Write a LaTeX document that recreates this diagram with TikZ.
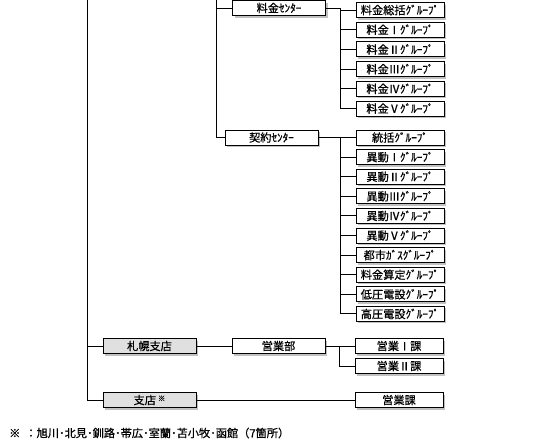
\documentclass[tikz,border=0pt]{standalone}
\usepackage{fontspec}
\newfontfamily\jpfont[FakeBold=0.7]{Noto Sans CJK JP}
\usetikzlibrary{shadows}
\tikzset{
  unitbox/.style={draw, fill=white, line width=1pt, minimum width=93pt, minimum height=15pt, inner sep=0pt,
    font=\jpfont\fontsize{11.2}{13}\selectfont,
    drop shadow={shadow xshift=2pt, shadow yshift=-2pt, fill=black!30, opacity=0.8}},
  branchbox/.style={unitbox, fill=black!12},
  groupbox/.style={unitbox, minimum width=88pt},
  tree/.style={line width=1pt}
}
\begin{document}
\begin{tikzpicture}[x=1pt, y=-1pt]
      \useasboundingbox (0,0) rectangle (550,445);
      \coordinate (top1) at (87, 0);
      \coordinate (top2) at (216, 0);
      \coordinate (busA) at (340, 0);
      \coordinate (busB) at (339, 0);
      \node[unitbox] (ryo) at (279, 8) {料金ｾﾝﾀｰ};
      \node[unitbox] (kei) at (271.5, 137.5) {契約ｾﾝﾀｰ};
      \node[groupbox] (R1) at (400, 10) {料金総括ｸﾞﾙｰﾌﾟ};
      \node[groupbox] (R2) at (400, 29.7) {料金Ⅰｸﾞﾙｰﾌﾟ};
      \node[groupbox] (R3) at (400, 49.4) {料金Ⅱｸﾞﾙｰﾌﾟ};
      \node[groupbox] (R4) at (400, 69.1) {料金Ⅲｸﾞﾙｰﾌﾟ};
      \node[groupbox] (R5) at (400, 88.8) {料金Ⅳｸﾞﾙｰﾌﾟ};
      \node[groupbox] (R6) at (400, 108.5) {料金Ⅴｸﾞﾙｰﾌﾟ};
      \node[groupbox] (K1) at (400, 137.5) {統括ｸﾞﾙｰﾌﾟ};
      \node[groupbox] (K2) at (400, 157.1) {異動Ⅰｸﾞﾙｰﾌﾟ};
      \node[groupbox] (K3) at (400, 176.7) {異動Ⅱｸﾞﾙｰﾌﾟ};
      \node[groupbox] (K4) at (400, 196.3) {異動Ⅲｸﾞﾙｰﾌﾟ};
      \node[groupbox] (K5) at (400, 215.9) {異動Ⅳｸﾞﾙｰﾌﾟ};
      \node[groupbox] (K6) at (400, 235.5) {異動Ⅴｸﾞﾙｰﾌﾟ};
      \node[groupbox] (K7) at (400, 255.1) {都市ｶﾞｽｸﾞﾙｰﾌﾟ};
      \node[groupbox] (K8) at (400, 274.7) {料金算定ｸﾞﾙｰﾌﾟ};
      \node[groupbox] (K9) at (400, 294.3) {低圧電設ｸﾞﾙｰﾌﾟ};
      \node[groupbox] (K10) at (400, 313.9) {高圧電設ｸﾞﾙｰﾌﾟ};
      \node[branchbox] (sap) at (149.5, 346) {札幌支店};
      \node[unitbox] (bu) at (278.5, 346) {営業部};
      \node[groupbox] (E1) at (399, 346) {営業Ⅰ課};
      \node[groupbox] (E2) at (399, 366) {営業Ⅱ課};
      \node[branchbox] (shi) at (149.5, 400) {支店\,\raisebox{0.5ex}{\fontsize{7.5}{8}\selectfont ※}};
      \node[groupbox] (ka) at (399, 400) {営業課};
      \node[anchor=west, inner sep=0pt, font=\jpfont\fontsize{11.2}{13}\selectfont] (note) at (9, 433)
        {※\hspace{0.45em}：旭川･北見･釧路･帯広･室蘭･苫小牧･函館（7箇所）};
      \draw[tree] (top1) |- (shi.west);
      \draw[tree] (top1 |- sap) -- (sap.west);
      \draw[tree] (top2) |- (kei.west);
      \draw[tree] (top2 |- ryo) -- (ryo.west);
      \draw[tree] (ryo.east) -- (ryo.east -| busA) |- (R6.west);
      \foreach \g in {R1,R2,R3,R4,R5}
        \draw[tree] (busA |- \g) -- (\g.west);
      \draw[tree] (kei.east) -- (kei.east -| busA) |- (K10.west);
      \foreach \g in {K1,K2,K3,K4,K5,K6,K7,K8,K9}
        \draw[tree] (busA |- \g) -- (\g.west);
      \draw[tree] (sap) -- (bu);
      \draw[tree] (bu.east) -- (bu.east -| busB) |- (E2.west);
      \draw[tree] (busB |- E1) -- (E1.west);
      \draw[tree] (shi) -- (ka);
    \end{tikzpicture}
\end{document}
